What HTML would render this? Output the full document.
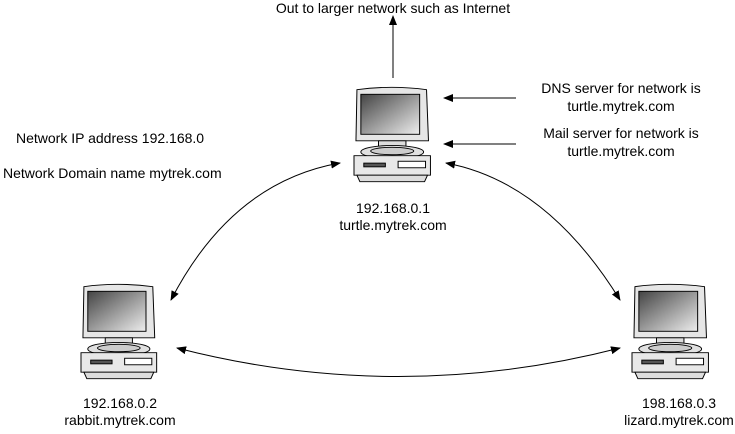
<!DOCTYPE html>
<html><head><style>
body{margin:0;background:#fff;width:735px;height:429px;overflow:hidden}
svg text{font-family:"Liberation Sans",sans-serif;font-size:14px;fill:#000}
</style></head><body>
<svg width="735" height="429" viewBox="0 0 735 429">
<defs>
<linearGradient id="sc" x1="0" y1="0" x2="1" y2="1"><stop offset="0" stop-color="#444"/><stop offset="0.6" stop-color="#aaa"/><stop offset="1" stop-color="#eee"/></linearGradient>
<marker id="ah" markerWidth="10" markerHeight="8" refX="9" refY="4" orient="auto" markerUnits="userSpaceOnUse"><path d="M0,0L10,4L0,8z" fill="#000"/></marker>
<marker id="as" markerWidth="10" markerHeight="8" refX="1" refY="4" orient="auto" markerUnits="userSpaceOnUse"><path d="M10,0L0,4L10,8z" fill="#000"/></marker>
<g id="pc" stroke="#000" stroke-width="1">
<path d="M3,5 Q38,0 74,5 L76,60 L2,60Z" fill="#e6e6e6"/>
<rect x="7" y="10" width="60" height="43" fill="url(#sc)"/>
<rect x="25" y="60" width="28" height="8" fill="#ddd"/>
<ellipse cx="39" cy="72" rx="32" ry="7" fill="#e0e0e0"/>
<ellipse cx="39" cy="71" rx="22" ry="4" fill="#ccc"/>
<path d="M0,76 L78,76 L78,97 L0,97Z" fill="#e8e8e8"/>
<rect x="10" y="84" width="22" height="4" fill="#555"/>
<rect x="45" y="82" width="28" height="7" fill="#fff"/>
<path d="M3,97 L75,97 L72,104 L6,104Z" fill="#ddd"/>
</g>
</defs>
<text x="393" y="13" text-anchor="middle">Out to larger network such as Internet</text>
<line x1="393" y1="78" x2="393" y2="16" stroke="#000" marker-end="url(#ah)"/>
<g transform="translate(354,85) scale(0.98,0.93)"><use href="#pc"/></g>
<g transform="translate(81,282) scale(0.97,0.93)"><use href="#pc"/></g>
<g transform="translate(632,282) scale(0.98,0.93)"><use href="#pc"/></g>
<line x1="516" y1="98" x2="444" y2="98" stroke="#000" marker-end="url(#ah)"/>
<line x1="516" y1="144" x2="444" y2="144" stroke="#000" marker-end="url(#ah)"/>
<text x="621" y="93" text-anchor="middle">DNS server for network is</text>
<text x="621" y="111" text-anchor="middle">turtle.mytrek.com</text>
<text x="621" y="138" text-anchor="middle">Mail server for network is</text>
<text x="621" y="156" text-anchor="middle">turtle.mytrek.com</text>
<text x="16" y="143">Network IP address 192.168.0</text>
<text x="3" y="178">Network Domain name mytrek.com</text>
<text x="393" y="213" text-anchor="middle">192.168.0.1</text>
<text x="393" y="230" text-anchor="middle">turtle.mytrek.com</text>
<text x="120" y="408" text-anchor="middle">192.168.0.2</text>
<text x="120" y="425" text-anchor="middle">rabbit.mytrek.com</text>
<text x="679" y="408" text-anchor="middle">198.168.0.3</text>
<text x="679" y="425" text-anchor="middle">lizard.mytrek.com</text>
<path d="M340,163 Q232,182 171,300" fill="none" stroke="#000" marker-start="url(#as)" marker-end="url(#ah)"/>
<path d="M446,163 Q547,182 620,300" fill="none" stroke="#000" marker-start="url(#as)" marker-end="url(#ah)"/>
<path d="M177,348 Q398,405 620,348" fill="none" stroke="#000" marker-start="url(#as)" marker-end="url(#ah)"/>
</svg>
</body></html>
